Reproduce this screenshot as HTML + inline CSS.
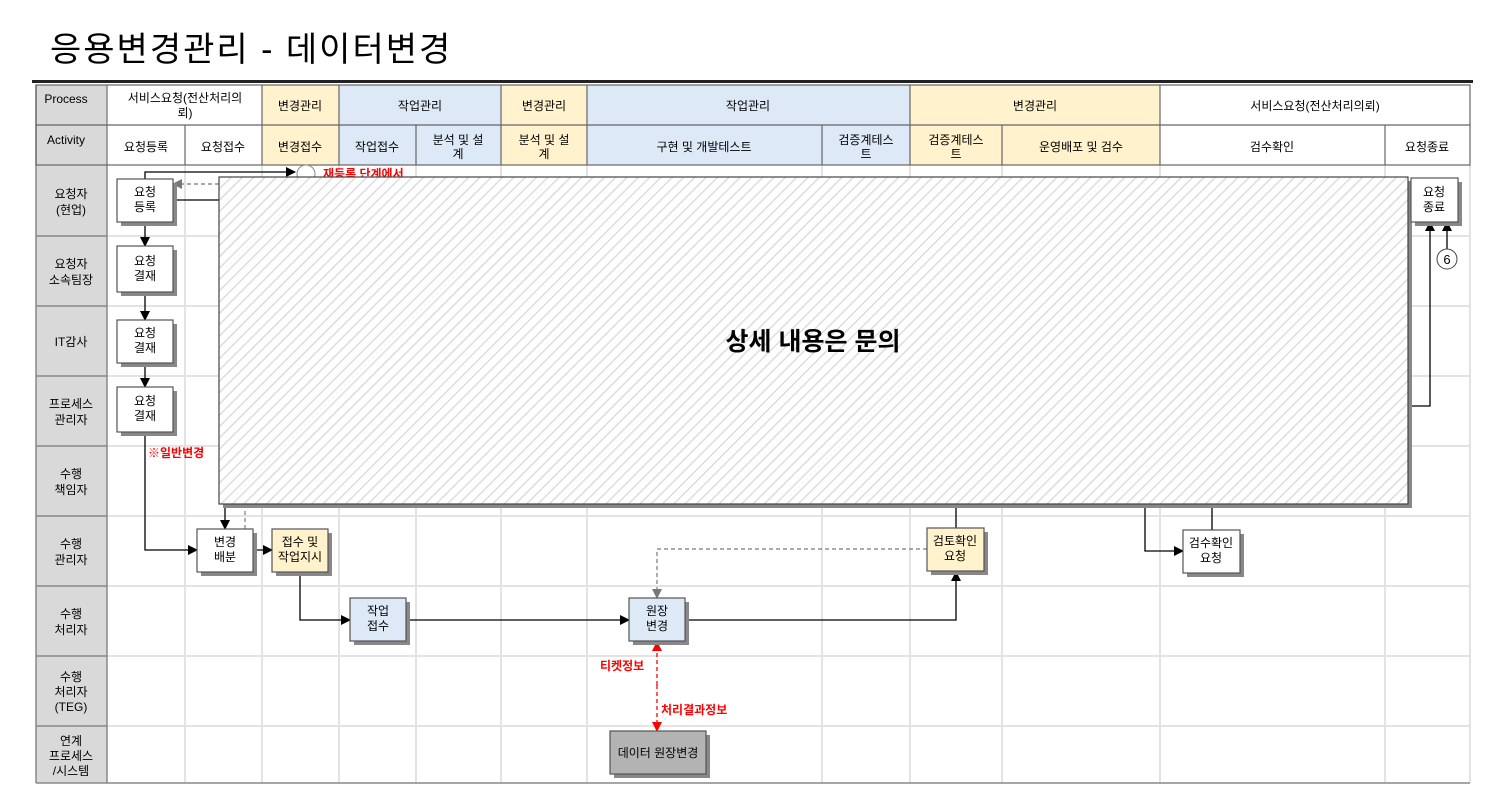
<!DOCTYPE html>
<html><head><meta charset="utf-8"><style>
body{margin:0;background:#fff;width:1501px;height:788px;overflow:hidden}
svg text{font-family:"Liberation Sans","Noto Sans CJK KR",sans-serif}
</style></head><body>
<svg width="1501" height="788" viewBox="0 0 1501 788" xmlns="http://www.w3.org/2000/svg">
<defs>
<pattern id="h" width="8" height="8" patternUnits="userSpaceOnUse" patternTransform="rotate(45)">
<rect width="8" height="8" fill="#fff"/><line x1="0" y1="0" x2="0" y2="8" stroke="#ddd" stroke-width="3"/></pattern>
<marker id="a" markerWidth="10" markerHeight="10" refX="9" refY="5" orient="auto" markerUnits="userSpaceOnUse"><path d="M0,0 L10,5 L0,10z" fill="#000"/></marker>
<marker id="g" markerWidth="10" markerHeight="10" refX="9" refY="5" orient="auto" markerUnits="userSpaceOnUse"><path d="M0,0 L10,5 L0,10z" fill="#777"/></marker>
<marker id="r" markerWidth="10" markerHeight="10" refX="9" refY="5" orient="auto" markerUnits="userSpaceOnUse"><path d="M0,0 L10,5 L0,10z" fill="#f00"/></marker>
</defs>
<text x="50" y="61" font-size="34" letter-spacing="2" fill="#000">응용변경관리 - 데이터변경</text>
<rect x="32" y="80" width="1441" height="3" fill="#222"/>
<rect x="36" y="85" width="71" height="698" fill="#d9d9d9"/>
<rect x="262" y="85" width="77" height="80" fill="#fff2cc"/>
<rect x="339" y="85" width="162" height="80" fill="#dde9f6"/>
<rect x="501" y="85" width="86" height="80" fill="#fff2cc"/>
<rect x="587" y="85" width="323" height="80" fill="#dde9f6"/>
<rect x="910" y="85" width="250" height="80" fill="#fff2cc"/>
<g stroke="#e3e3e3" stroke-width="2">
<line x1="185" y1="165" x2="185" y2="783"/><line x1="262" y1="165" x2="262" y2="783"/>
<line x1="339" y1="165" x2="339" y2="783"/><line x1="416" y1="165" x2="416" y2="783"/>
<line x1="501" y1="165" x2="501" y2="783"/><line x1="587" y1="165" x2="587" y2="783"/>
<line x1="822" y1="165" x2="822" y2="783"/><line x1="910" y1="165" x2="910" y2="783"/>
<line x1="1002" y1="165" x2="1002" y2="783"/><line x1="1160" y1="165" x2="1160" y2="783"/>
<line x1="1385" y1="165" x2="1385" y2="783"/><line x1="1470" y1="165" x2="1470" y2="783"/>
<line x1="107" y1="236" x2="1470" y2="236"/><line x1="107" y1="306" x2="1470" y2="306"/>
<line x1="107" y1="376" x2="1470" y2="376"/><line x1="107" y1="446" x2="1470" y2="446"/>
<line x1="107" y1="516" x2="1470" y2="516"/><line x1="107" y1="586" x2="1470" y2="586"/>
<line x1="107" y1="656" x2="1470" y2="656"/><line x1="107" y1="726" x2="1470" y2="726"/>
</g>
<g stroke="#888" stroke-width="1.5">
<line x1="36" y1="236" x2="107" y2="236"/><line x1="36" y1="306" x2="107" y2="306"/>
<line x1="36" y1="376" x2="107" y2="376"/><line x1="36" y1="446" x2="107" y2="446"/>
<line x1="36" y1="516" x2="107" y2="516"/><line x1="36" y1="586" x2="107" y2="586"/>
<line x1="36" y1="656" x2="107" y2="656"/><line x1="36" y1="726" x2="107" y2="726"/>
<line x1="36" y1="85" x2="36" y2="783"/><line x1="107" y1="85" x2="107" y2="783"/>
<line x1="36" y1="783" x2="1470" y2="783"/>
</g>
<g stroke="#666" stroke-width="1.2" fill="none">
<rect x="36" y="85" width="1434" height="80"/>
<line x1="36" y1="125" x2="1470" y2="125"/>
<line x1="262" y1="85" x2="262" y2="165"/><line x1="339" y1="85" x2="339" y2="165"/>
<line x1="501" y1="85" x2="501" y2="165"/><line x1="587" y1="85" x2="587" y2="165"/>
<line x1="910" y1="85" x2="910" y2="165"/><line x1="1160" y1="85" x2="1160" y2="165"/>
<line x1="185" y1="125" x2="185" y2="165"/><line x1="416" y1="125" x2="416" y2="165"/>
<line x1="822" y1="125" x2="822" y2="165"/><line x1="1002" y1="125" x2="1002" y2="165"/>
<line x1="1385" y1="125" x2="1385" y2="165"/>
</g>
<g font-size="12" text-anchor="middle" fill="#000">
<text x="66" y="103">Process</text><text x="66" y="144">Activity</text>
<text x="185" y="102">서비스요청(전산처리의</text><text x="185" y="117">뢰)</text>
<text x="300" y="110">변경관리</text><text x="420" y="110">작업관리</text>
<text x="544" y="110">변경관리</text><text x="748" y="110">작업관리</text>
<text x="1035" y="110">변경관리</text><text x="1315" y="110">서비스요청(전산처리의뢰)</text>
<text x="146" y="151">요청등록</text><text x="223" y="151">요청접수</text>
<text x="300" y="151">변경접수</text><text x="377" y="151">작업접수</text>
<text x="458" y="144">분석 및 설</text><text x="458" y="158">계</text>
<text x="544" y="144">분석 및 설</text><text x="544" y="158">계</text>
<text x="704" y="151">구현 및 개발테스트</text>
<text x="866" y="144">검증계테스</text><text x="866" y="158">트</text>
<text x="956" y="144">검증계테스</text><text x="956" y="158">트</text>
<text x="1081" y="151">운영배포 및 검수</text><text x="1272" y="151">검수확인</text>
<text x="1427" y="151">요청종료</text>
<text x="71" y="198">요청자</text><text x="71" y="214">(현업)</text>
<text x="71" y="268">요청자</text><text x="71" y="284">소속팀장</text>
<text x="71" y="346">IT감사</text>
<text x="71" y="408">프로세스</text><text x="71" y="424">관리자</text>
<text x="71" y="478">수행</text><text x="71" y="494">책임자</text>
<text x="71" y="548">수행</text><text x="71" y="564">관리자</text>
<text x="71" y="618">수행</text><text x="71" y="634">처리자</text>
<text x="71" y="681">수행</text><text x="71" y="696">처리자</text><text x="71" y="711">(TEG)</text>
<text x="71" y="745">연계</text><text x="71" y="760">프로세스</text><text x="71" y="775">/시스템</text>
</g>
<g stroke="#000" stroke-width="1.3" fill="none">
<polyline points="145,179 145,172 295,172" marker-end="url(#a)"/>
<line x1="173" y1="200" x2="219" y2="200"/>
<line x1="145" y1="222" x2="145" y2="246" marker-end="url(#a)"/>
<line x1="145" y1="292" x2="145" y2="320" marker-end="url(#a)"/>
<line x1="145" y1="363" x2="145" y2="387" marker-end="url(#a)"/>
<polyline points="145,432 145,550 197,550" marker-end="url(#a)"/>
<line x1="225" y1="504" x2="225" y2="529" marker-end="url(#a)"/>
<line x1="253" y1="550" x2="272" y2="550" marker-end="url(#a)"/>
<polyline points="300,572 300,620 350,620" marker-end="url(#a)"/>
<line x1="406" y1="620" x2="629" y2="620" marker-end="url(#a)"/>
<polyline points="685,620 956,620 956,572" marker-end="url(#a)"/>
<line x1="956" y1="504" x2="956" y2="528"/>
<polyline points="1145,504 1145,551 1183,551" marker-end="url(#a)"/>
<line x1="1212" y1="504" x2="1212" y2="530"/>
<polyline points="1408,406 1430,406 1430,222" marker-end="url(#a)"/>
<line x1="1447" y1="249" x2="1447" y2="222" marker-end="url(#a)"/>
</g>
<g stroke="#777" stroke-width="1.2" fill="none" stroke-dasharray="4,3">
<line x1="219" y1="184" x2="173" y2="184" marker-end="url(#g)"/>
<line x1="245" y1="504" x2="245" y2="530"/>
<polyline points="927,549 657,549 657,598" marker-end="url(#g)"/>
</g>
<g stroke="#f00" stroke-width="1.3" stroke-dasharray="4,3">
<line x1="657" y1="685" x2="657" y2="642" marker-end="url(#r)"/>
<line x1="657" y1="685" x2="657" y2="731" marker-end="url(#r)"/>
</g>
<circle cx="306" cy="174" r="9" fill="#fff" stroke="#888"/>
<circle cx="1447" cy="259" r="10" fill="#fff" stroke="#444"/>
<text x="1447" y="264" font-size="13" text-anchor="middle">6</text>
<g font-size="12" fill="#f00" font-weight="bold">
<text x="323" y="178">재등록 단계에서</text>
<text x="148" y="457">※일반변경</text>
<text x="600" y="670">티켓정보</text>
<text x="661" y="714">처리결과정보</text>
</g>
<g stroke="#555" stroke-width="1.2">
<g fill="#888" stroke="none">
<rect x="121" y="183" width="56" height="43"/><rect x="121" y="250" width="56" height="46"/>
<rect x="121" y="324" width="56" height="43"/><rect x="121" y="391" width="56" height="45"/>
<rect x="201" y="533" width="56" height="43"/><rect x="276" y="533" width="56" height="43"/>
<rect x="354" y="602" width="56" height="43"/><rect x="633" y="602" width="56" height="43"/>
<rect x="614" y="735" width="96" height="43"/><rect x="931" y="532" width="57" height="43"/>
<rect x="1187" y="534" width="57" height="43"/><rect x="1415" y="182" width="47" height="44"/>
<rect x="223" y="181" width="1189" height="327"/>
</g>
<rect x="117" y="179" width="56" height="43" fill="#fff"/>
<rect x="117" y="246" width="56" height="46" fill="#fff"/>
<rect x="117" y="320" width="56" height="43" fill="#fff"/>
<rect x="117" y="387" width="56" height="45" fill="#fff"/>
<rect x="197" y="529" width="56" height="43" fill="#fff"/>
<rect x="272" y="529" width="56" height="43" fill="#fff2cc"/>
<rect x="350" y="598" width="56" height="43" fill="#dde9f6"/>
<rect x="629" y="598" width="56" height="43" fill="#dde9f6"/>
<rect x="610" y="731" width="96" height="43" fill="#b3b3b3"/>
<rect x="927" y="528" width="57" height="43" fill="#fff2cc"/>
<rect x="1183" y="530" width="57" height="43" fill="#fff"/>
<rect x="1411" y="178" width="47" height="44" fill="#fff"/>
<rect x="219" y="177" width="1189" height="327" fill="url(#h)" stroke="#444"/>
</g>
<g font-size="12" text-anchor="middle">
<text x="145" y="196">요청</text><text x="145" y="211">등록</text>
<text x="145" y="265">요청</text><text x="145" y="280">결재</text>
<text x="145" y="337">요청</text><text x="145" y="352">결재</text>
<text x="145" y="405">요청</text><text x="145" y="420">결재</text>
<text x="225" y="546">변경</text><text x="225" y="561">배분</text>
<text x="300" y="546">접수 및</text><text x="300" y="561">작업지시</text>
<text x="378" y="615">작업</text><text x="378" y="630">접수</text>
<text x="657" y="615">원장</text><text x="657" y="630">변경</text>
<text x="658" y="757">데이터 원장변경</text>
<text x="955" y="545">검토확인</text><text x="955" y="560">요청</text>
<text x="1211" y="547">검수확인</text><text x="1211" y="562">요청</text>
<text x="1434" y="196">요청</text><text x="1434" y="211">종료</text>
</g>
<text x="813" y="350" font-size="25" font-weight="bold" text-anchor="middle">상세 내용은 문의</text>
</svg>
</body></html>
